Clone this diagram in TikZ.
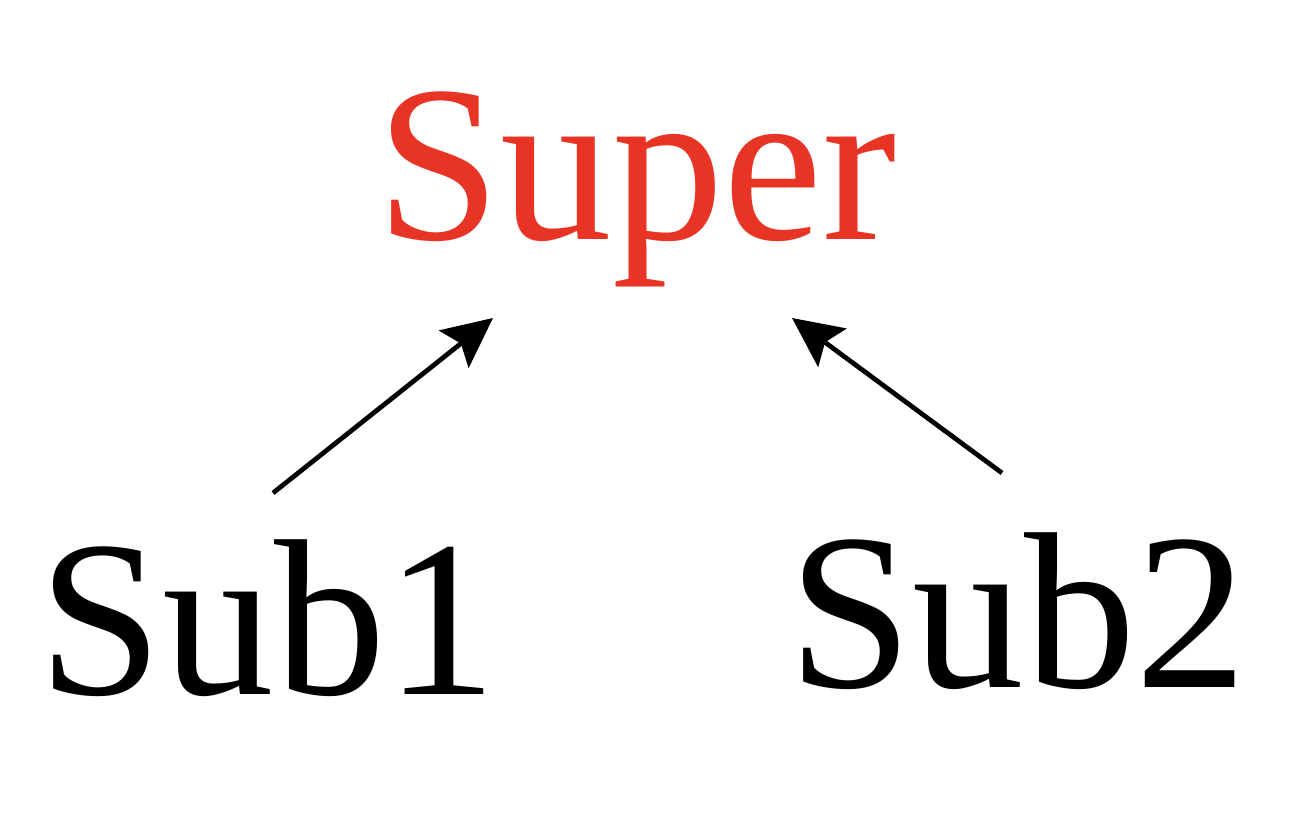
\documentclass[tikz,border=0pt]{standalone}
\usepackage{fontspec}
\setmainfont{Liberation Serif}
\usetikzlibrary{arrows.meta, calc}

\begin{document}
\begin{tikzpicture}[
        x=0.02cm, y=0.02cm,
        classname/.style={anchor=base, inner sep=0pt, font=\fontsize{127}{132}\selectfont},
        superclass/.style={classname, text=superred},
        arrow/.style={-{Stealth[length=1cm, width=0.95cm, inset=0.18cm]}, line width=2.7pt, draw=black}
    ]
        \definecolor{superred}{RGB}{232,52,36}
        \useasboundingbox (0,0) rectangle (1302,834);

        \node[superclass] (super) at (637,594) {Super};
        \node[classname] (sub1) at (268,139) {Sub1};
        \node[classname] (sub2) at (1018,146) {Sub2};

        \draw[arrow] ($(sub1.base)+(5,202)$) -- ($(super.base)+(-144,-78)$);
        \draw[arrow] ($(sub2.base)+(-16,215)$) -- ($(super.base)+(155,-78)$);
    \end{tikzpicture}
\end{document}
